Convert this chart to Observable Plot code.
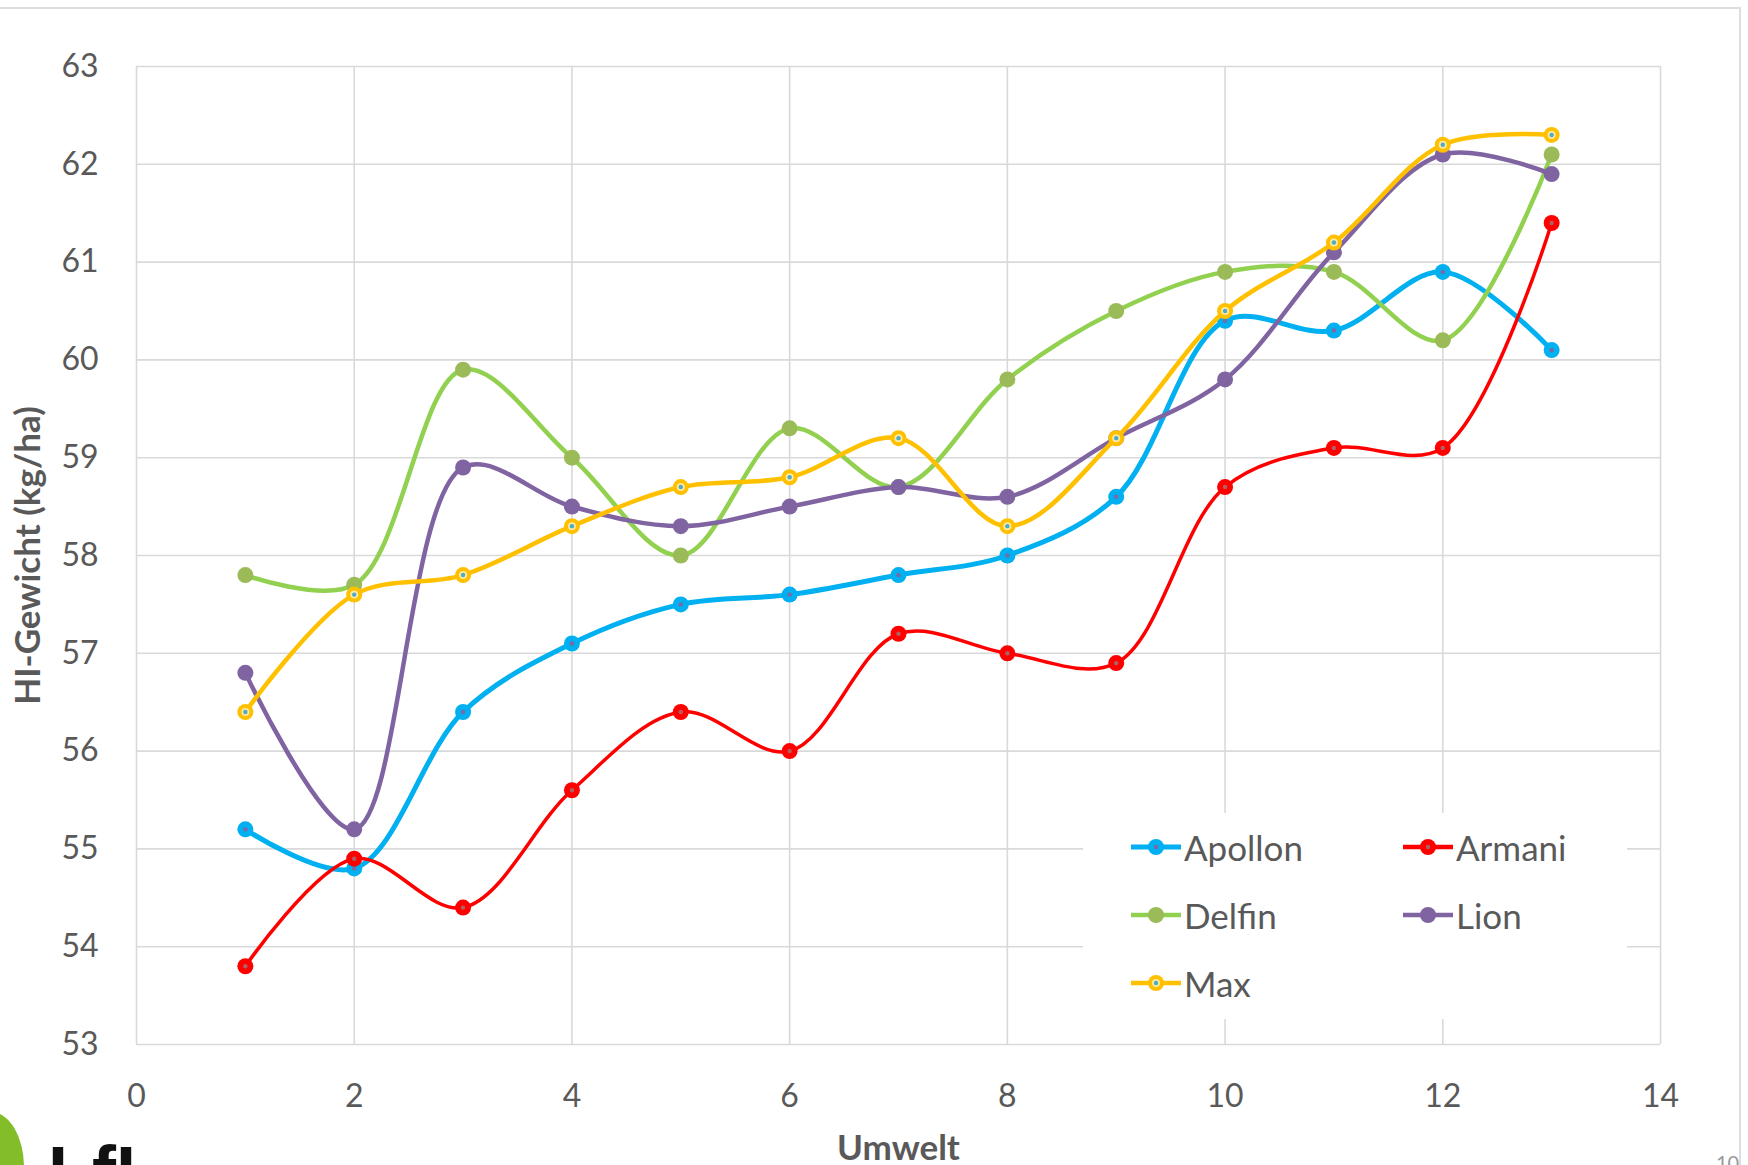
<!DOCTYPE html>
<html>
<head>
<meta charset="utf-8">
<script src="https://cdn.jsdelivr.net/npm/d3@7"></script>
<script src="https://cdn.jsdelivr.net/npm/@observablehq/plot@0.6"></script>
<style>
  html, body { margin: 0; padding: 0; background: #fff; overflow: hidden; }
  body { width: 1748px; height: 1165px; position: relative; font-family: Lato, "Open Sans", sans-serif; }
  #chart { position: absolute; left: 0; top: 0; }
  #chart svg g[aria-label="x-axis label"] text,
  #chart svg g[aria-label="y-axis label"] text { font-weight: 700; font-size: 35px; }
  #frameTop { position: absolute; left: 0; top: 7px; width: 1740px; height: 0; border-top: 2px solid #dedede; }
  #frameRight { position: absolute; left: 1739px; top: 7px; width: 0; height: 1160px; border-left: 2px solid #dedede; }
  #legend { position: absolute; left: 1083px; top: 813px; width: 544px; height: 206px; background: #fff; }
  .item { position: absolute; display: flex; align-items: center; height: 44px; color: #595959; font-size: 35px; }
  .item svg { margin-right: 3px; }
  #logoLeaf { position: absolute; left: -42px; top: 1112px; width: 66px; height: 110px; border-radius: 50%; background: #84bd2a; }
  #logoText { position: absolute; left: 48px; top: 1136px; font-family: "Liberation Sans", Arial, sans-serif; font-weight: 700; font-size: 72px; color: #111; line-height: 1; }
  #pageNo { position: absolute; left: 1716px; top: 1152px; font-size: 20px; color: #999; line-height: 1; }
</style>
</head>
<body>
<div id="frameTop"></div>
<div id="frameRight"></div>
<div id="chart"></div>
<div id="legend"></div>
<div id="logoLeaf"></div>
<div id="logoText">LfL</div>
<div id="pageNo">10</div>
<script>
// ---- data ----
const umwelt = [1, 2, 3, 4, 5, 6, 7, 8, 9, 10, 11, 12, 13];
const seriesNames = ["Apollon", "Armani", "Delfin", "Lion", "Max"];
const apollon = [55.2, 54.8, 56.4, 57.1, 57.5, 57.6, 57.8, 58.0, 58.6, 60.4, 60.3, 60.9, 60.1];
const armani  = [53.8, 54.9, 54.4, 55.6, 56.4, 56.0, 57.2, 57.0, 56.9, 58.7, 59.1, 59.1, 61.4];
const delfin  = [57.8, 57.7, 59.9, 59.0, 58.0, 59.3, 58.7, 59.8, 60.5, 60.9, 60.9, 60.2, 62.1];
const lion    = [56.8, 55.2, 58.9, 58.5, 58.3, 58.5, 58.7, 58.6, 59.2, 59.8, 61.1, 62.1, 61.9];
const max     = [56.4, 57.6, 57.8, 58.3, 58.7, 58.8, 59.2, 58.3, 59.2, 60.5, 61.2, 62.2, 62.3];
const xTicks = [0, 2, 4, 6, 8, 10, 12, 14];
const yTicks = [53, 54, 55, 56, 57, 58, 59, 60, 61, 62, 63];
const xTitle = "Umwelt";
const yTitle = "HI-Gewicht (kg/ha)";

// ---- styles ----
const seriesValues = [apollon, armani, delfin, lion, max];
const style = {
  Apollon: {line: "#00B0F0", marker: "#00B0F0", width: 5,   center: "#7B68A6", ring: null},
  Armani:  {line: "#FF0000", marker: "#FF0000", width: 3.5, center: "#B06060", ring: null},
  Delfin:  {line: "#92D050", marker: "#9BBB59", width: 4.5, center: null, ring: null},
  Lion:    {line: "#8064A2", marker: "#8064A2", width: 4.5, center: null, ring: null},
  Max:     {line: "#FFC000", marker: "#FFC000", width: 4.5, center: "#4BACC6", ring: "#FFE8A0"}
};

const rows = seriesNames.flatMap((name, i) =>
  umwelt.map((u, j) => ({series: name, umwelt: u, value: seriesValues[i][j]})));

const marks = [
  Plot.gridY({ticks: yTicks, stroke: "#d9d9d9", strokeOpacity: 1, strokeWidth: 1.6}),
  Plot.gridX({ticks: xTicks, stroke: "#d9d9d9", strokeOpacity: 1, strokeWidth: 1.6}),
  Plot.axisX({ticks: xTicks, tickSize: 0, tickPadding: 40, fontSize: 32,
    label: xTitle, labelAnchor: "center", labelOffset: 115, labelArrow: "none"}),
  Plot.axisY({ticks: yTicks, tickSize: 0, tickPadding: 38, fontSize: 32,
    label: yTitle, labelAnchor: "center", labelOffset: 121, labelArrow: "none"})
];

for (const name of seriesNames) {
  const s = style[name];
  const d = rows.filter(r => r.series === name);
  marks.push(Plot.line(d, {x: "umwelt", y: "value", stroke: s.line, strokeWidth: s.width, curve: "catmull-rom"}));
  marks.push(Plot.dot(d, {x: "umwelt", y: "value", r: 8, fill: s.marker, stroke: "none"}));
  if (s.ring) marks.push(Plot.dot(d, {x: "umwelt", y: "value", r: 4, fill: s.ring, stroke: "none"}));
  if (s.center) marks.push(Plot.dot(d, {x: "umwelt", y: "value", r: 2.2, fill: s.center, stroke: "none"}));
}

const chart = Plot.plot({
  width: 1748,
  height: 1165,
  marginLeft: 136,
  marginRight: 88,
  marginTop: 66,
  marginBottom: 121,
  x: {domain: [0, 14]},
  y: {domain: [53, 63]},
  style: {fontFamily: "Lato, 'Open Sans', sans-serif", color: "#595959", background: "transparent", overflow: "visible"},
  marks
});
document.getElementById("chart").appendChild(chart);

// ---- legend ----
const legend = document.getElementById("legend");
seriesNames.forEach((name, i) => {
  const s = style[name];
  const col = i % 2, row = Math.floor(i / 2);
  const item = document.createElement("div");
  item.className = "item";
  item.style.left = (col === 0 ? 48 : 320) + "px";
  item.style.top = (34 + row * 68 - 22) + "px";
  let svg = `<svg width="50" height="20" viewBox="0 0 50 20">
    <line x1="0" y1="10" x2="50" y2="10" stroke="${s.line}" stroke-width="${Math.max(s.width, 4.5)}" />
    <circle cx="25" cy="10" r="8" fill="${s.marker}" />`;
  if (s.ring) svg += `<circle cx="25" cy="10" r="4" fill="${s.ring}" />`;
  if (s.center) svg += `<circle cx="25" cy="10" r="2.2" fill="${s.center}" />`;
  svg += `</svg>`;
  item.innerHTML = svg + `<span>${name}</span>`;
  legend.appendChild(item);
});
</script>
</body>
</html>
